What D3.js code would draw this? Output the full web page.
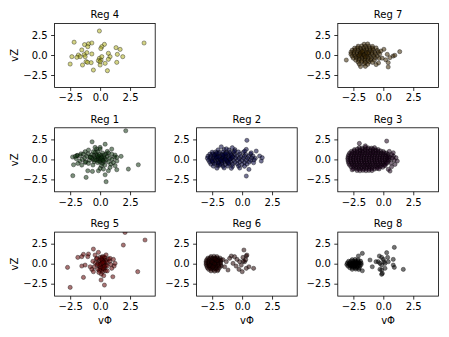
<!DOCTYPE html>
<html>
<head>
<meta charset="utf-8">
<script src="https://cdn.jsdelivr.net/npm/d3@7"></script>
<style>
  body { margin: 0; background: #fff; }
  svg { font-family: "DejaVu Sans", sans-serif; }
</style>
</head>
<body>
<svg id="chart" width="449" height="337"></svg>
<script>
// axis limits and ticks (shared by all panels)
const xDomain = [-3.8, 4.6];
const yDomain = [-4.05, 3.95];
const tickVals = [-2.5, 0, 2.5];

// points per region: [vPhi, vZ]
const reg4 = [[-0.06,3.0],[-2.17,1.6],[3.67,1.5],[-1.3,1.3],[-0.97,1.4],[-0.69,1.5],[-1.03,1.04],[0.36,1.33],[0.14,1.04],[0.06,0.8],[1.33,0.92],[1.67,0.7],[-1.53,0.63],[-1.11,0.29],[-0.69,0.13],[-1.33,0.04],[0.69,0.21],[1.44,0.08],[1.89,-0.21],[0.83,-0.21],[0.69,-0.54],[-2.36,-0.21],[-1.81,0],[-1.67,-0.21],[-1.94,-0.29],[-1.25,-0.21],[-0.06,-0.42],[0.08,-0.63],[-0.14,-0.71],[0,-0.83],[0.14,-0.21],[-2.5,-1.13],[-1.47,-1.25],[-1.17,-0.83],[-1.05,-0.92],[-0.75,-0.96],[1.39,-0.92],[0.42,-1.04],[0,-1.25],[-0.56,-1.88],[0.61,-1.96]];

const reg7 = [[-1.6,1.35],[-1.3,1.38],
  [-2.1,1.1],[-1.8,1.13],[-1.5,1.08],[-1.2,1.12],[-0.9,1.07],
  [-2.4,0.85],[-2.15,0.88],[-1.9,0.83],[-1.65,0.87],[-1.4,0.82],[-1.15,0.86],[-0.9,0.84],[-0.6,0.88],
  [-2.6,0.6],[-2.35,0.63],[-2.1,0.58],[-1.85,0.62],[-1.6,0.57],[-1.35,0.61],[-1.1,0.59],[-0.85,0.63],[-0.5,0.57],
  [-2.7,0.35],[-2.45,0.38],[-2.2,0.33],[-1.95,0.37],[-1.7,0.32],[-1.45,0.36],[-1.2,0.34],[-0.95,0.38],[-0.7,0.33],[-0.4,0.36],
  [-2.7,0.1],[-2.45,0.13],[-2.2,0.08],[-1.95,0.12],[-1.7,0.07],[-1.45,0.11],[-1.2,0.09],[-0.95,0.13],[-0.65,0.08],[-0.3,0.11],
  [-2.6,-0.15],[-2.35,-0.12],[-2.1,-0.17],[-1.85,-0.13],[-1.6,-0.18],[-1.35,-0.14],[-1.1,-0.16],[-0.8,-0.12],[-0.5,-0.17],
  [-2.5,-0.4],[-2.25,-0.37],[-2.0,-0.42],[-1.75,-0.38],[-1.5,-0.43],[-1.25,-0.39],[-1.0,-0.41],[-0.7,-0.37],[-0.35,-0.42],
  [-2.3,-0.65],[-2.05,-0.62],[-1.8,-0.67],[-1.55,-0.63],[-1.3,-0.68],[-1.05,-0.64],[-0.75,-0.66],
  [-2.1,-0.9],[-1.8,-0.87],[-1.5,-0.92],[-1.2,-0.88],[-0.9,-0.93],
  [-2.0,-1.15],[-1.6,-1.12],[-1.3,-1.17],[-1.9,-1.45],[-1.5,-1.42],
  [-1.9,0.2],[-1.6,0.0],[-1.75,0.45],[-1.5,-0.25],[-2.0,-0.05],[-1.3,0.25],
  [-3.09,-0.63],[1.37,0.42],[0.82,-0.13],[0.96,-0.04],[0.55,-0.33],[0.33,0.08],[0.05,0.71],[0.41,-0.96],[0.41,-1.5],[-0.1,-0.4],[-0.2,0.5],[0.2,-0.6],[-0.4,-1.0],[-0.6,-1.2]];

const reg1 = [[-0.5,0.5],[-0.3,0.6],[-0.1,0.4],[0.1,0.5],[0.3,0.3],[-0.4,0.2],[-0.2,0.1],[0,0.2],[0.2,0.0],[0.4,0.1],[-0.6,0.0],[-0.3,-0.1],[-0.1,-0.2],[0.1,-0.1],[0.3,-0.3],[0.5,-0.1],[-0.5,-0.3],[-0.2,-0.4],[0.0,-0.3],[0.2,-0.5],[-0.8,0.3],[-0.7,0.6],[-0.9,-0.1],[0.6,0.4],[0.8,0.2],[0.7,-0.3],[1.0,0.0],[1.2,0.3],[1.4,-0.2],[-1.3,0.2],[-1.5,0.0],[-1.7,-0.2],[-2.0,0.1],[-1.2,-0.3],[-0.4,0.9],[-0.2,1.0],[0.2,0.8],[0.5,0.7],[-0.6,-0.7],[0.1,-0.8],[0.4,-0.7],[-0.3,1.3],[0.6,1.0],[-1.6,0.7],[-1.9,0.5],[-0.15,0.3],[0.05,0.05],[-0.25,0.45],[0.15,0.25],[-0.45,-0.05],[0.25,-0.15],[-0.05,0.6],[0.35,0.55],[-0.7,0.2],[0.9,-0.6],[1.1,-0.4],[-2.3,0.3],[-1.0,0.7],[0.0,1.5],[0.7,0.8],
  [2.14,3.58],[-0.67,2.2],[0.42,1.9],[0.97,1.29],[0,1.29],[-0.42,1.5],[-0.56,0.96],[-0.97,1.17],[-1.25,0.96],[-1.94,0.46],[-1.67,0.46],[-2.08,0.38],[-1.39,0.67],[-1.11,0.38],[-0.83,0.25],[1.75,0.38],[1.39,0.25],[1.25,0.54],[0.97,0.67],[-2.22,-0.67],[-1.86,-0.5],[-1.53,-0.71],[-1.25,-0.38],[-0.97,-0.5],[3.19,-0.67],[2.36,-1.21],[1.25,-0.79],[1.39,-1.29],[0.83,-1.0],[0.69,-1.42],[0.28,-1.21],[-1.03,-1.42],[-0.64,-1.5],[0,-1.13],[-0.14,-1.42],[-2.28,-2.04],[-1.17,-2.25],[0.42,-1.92],[0.5,-2.79]];

const reg2 = [[-2.0,1.2],[-1.5,1.24],[-1.1,1.18],[-0.6,1.22],
  [-2.5,0.9],[-2.2,0.93],[-1.9,0.88],[-1.6,0.92],[-1.3,0.87],[-1.0,0.91],[-0.7,0.89],[-0.3,0.93],[0.1,0.88],
  [-2.7,0.65],[-2.45,0.68],[-2.2,0.63],[-1.95,0.67],[-1.7,0.62],[-1.45,0.66],[-1.2,0.64],[-0.95,0.68],[-0.6,0.63],[-0.2,0.66],[0.3,0.62],[0.7,0.67],
  [-2.85,0.4],[-2.6,0.43],[-2.35,0.38],[-2.1,0.42],[-1.85,0.37],[-1.6,0.41],[-1.35,0.39],[-1.1,0.43],[-0.8,0.38],[-0.45,0.42],[-0.1,0.37],[0.2,0.41],[0.55,0.39],[0.9,0.43],
  [-2.9,0.15],[-2.65,0.18],[-2.4,0.13],[-2.15,0.17],[-1.9,0.12],[-1.65,0.16],[-1.4,0.14],[-1.15,0.18],[-0.9,0.13],[-0.55,0.17],[-0.25,0.12],[0.1,0.16],[0.45,0.14],[0.8,0.18],[1.1,0.13],
  [-2.8,-0.1],[-2.55,-0.07],[-2.3,-0.12],[-2.05,-0.08],[-1.8,-0.13],[-1.55,-0.09],[-1.3,-0.11],[-1.05,-0.07],[-0.7,-0.12],[-0.35,-0.08],[0.0,-0.13],[0.35,-0.09],[0.7,-0.11],[1.0,-0.07],
  [-2.7,-0.35],[-2.45,-0.32],[-2.2,-0.37],[-1.95,-0.33],[-1.7,-0.38],[-1.45,-0.34],[-1.2,-0.36],[-0.95,-0.32],[-0.6,-0.37],[-0.2,-0.33],[0.2,-0.38],[0.6,-0.34],
  [-2.6,-0.6],[-2.3,-0.57],[-2.0,-0.62],[-1.7,-0.58],[-1.4,-0.63],[-1.1,-0.59],[-0.8,-0.61],[-0.4,-0.57],[0.0,-0.62],[0.4,-0.58],
  [-2.4,-0.85],[-2.0,-0.82],[-1.6,-0.87],[-1.2,-0.83],[-0.8,-0.88],[-0.3,-0.84],[0.2,-0.86],
  [-2.1,-1.1],[-1.5,-1.07],[-0.9,-1.12],[-0.2,-1.08],
  [-2.2,0.25],[-1.8,0.0],[-1.5,0.3],[-1.25,-0.2],[-1.0,0.05],[-2.0,-0.45],[-1.6,0.55],[-0.9,0.5],
  [-2.3,0.55],[-2.0,0.3],[-1.7,-0.2],[-1.4,0.0],[-1.1,-0.45],[-0.8,0.25],[-2.5,-0.2],[-1.85,-0.7],[-1.35,0.75],[-2.1,0.8],
  [0.4,2.38],[0.35,1.25],[0.21,1.04],[0.76,0.83],[1.18,1.04],[1.46,0.42],[1.68,0.21],[1.6,-0.21],[0.96,-0.42],[0.57,-1.25],[0.35,-2.08],[-1.74,1.58],[-1.32,1.33],[-0.82,1.46],[-0.63,1.04]];

const reg3 = [[-2.02,1.47],[-1.77,1.42],[-1.49,1.5],[-1.26,1.44],[-0.98,1.41],[-0.73,1.46],
  [-2.41,1.22],[-2.17,1.28],[-1.95,1.2],[-1.72,1.27],[-1.5,1.23],[-1.31,1.29],[-1.06,1.21],[-0.85,1.26],[-0.62,1.2],[-0.43,1.24],
  [-2.66,1.0],[-2.42,1.06],[-2.2,0.99],[-1.98,1.05],[-1.76,1.01],[-1.54,1.07],[-1.32,1.0],[-1.1,1.04],[-0.88,0.98],[-0.66,1.05],[-0.44,1.01],[-0.22,1.06],[0.0,0.99],
  [-2.81,0.8],[-2.57,0.84],[-2.35,0.78],[-2.13,0.83],[-1.91,0.79],[-1.69,0.85],[-1.47,0.8],[-1.25,0.82],[-1.03,0.77],[-0.81,0.84],[-0.59,0.79],[-0.37,0.83],[-0.15,0.78],[0.07,0.82],[0.26,0.79],
  [-2.89,0.57],[-2.65,0.62],[-2.43,0.56],[-2.21,0.61],[-1.99,0.58],[-1.77,0.63],[-1.55,0.57],[-1.33,0.6],[-1.11,0.56],[-0.89,0.62],[-0.67,0.58],[-0.45,0.61],[-0.23,0.56],[-0.01,0.6],[0.21,0.57],[0.41,0.62],
  [-2.93,0.36],[-2.7,0.4],[-2.48,0.34],[-2.26,0.39],[-2.04,0.35],[-1.82,0.41],[-1.6,0.36],[-1.38,0.38],[-1.16,0.33],[-0.94,0.4],[-0.72,0.35],[-0.5,0.39],[-0.28,0.34],[-0.06,0.38],[0.16,0.35],[0.36,0.4],[0.5,0.33],
  [-2.96,0.14],[-2.74,0.18],[-2.52,0.12],[-2.3,0.17],[-2.08,0.13],[-1.86,0.19],[-1.64,0.14],[-1.42,0.16],[-1.2,0.11],[-0.98,0.18],[-0.76,0.13],[-0.54,0.17],[-0.32,0.12],[-0.1,0.16],[0.12,0.13],[0.33,0.18],[0.52,0.12],
  [-2.95,-0.08],[-2.73,-0.04],[-2.51,-0.1],[-2.29,-0.05],[-2.07,-0.09],[-1.85,-0.03],[-1.63,-0.08],[-1.41,-0.06],[-1.19,-0.11],[-0.97,-0.04],[-0.75,-0.09],[-0.53,-0.05],[-0.31,-0.1],[-0.09,-0.06],[0.13,-0.09],[0.33,-0.04],[0.48,-0.1],
  [-2.92,-0.3],[-2.7,-0.26],[-2.48,-0.32],[-2.26,-0.27],[-2.04,-0.31],[-1.82,-0.25],[-1.6,-0.3],[-1.38,-0.28],[-1.16,-0.33],[-0.94,-0.26],[-0.72,-0.31],[-0.5,-0.27],[-0.28,-0.32],[-0.06,-0.28],[0.16,-0.31],[0.38,-0.27],
  [-2.88,-0.52],[-2.66,-0.48],[-2.44,-0.54],[-2.22,-0.49],[-2.0,-0.53],[-1.78,-0.47],[-1.56,-0.52],[-1.34,-0.5],[-1.12,-0.55],[-0.9,-0.48],[-0.68,-0.53],[-0.46,-0.49],[-0.24,-0.54],[-0.02,-0.5],[0.2,-0.53],[0.31,-0.47],
  [-2.8,-0.74],[-2.58,-0.7],[-2.36,-0.76],[-2.14,-0.71],[-1.92,-0.75],[-1.7,-0.69],[-1.48,-0.74],[-1.26,-0.72],[-1.04,-0.77],[-0.82,-0.7],[-0.6,-0.75],[-0.38,-0.71],[-0.16,-0.76],[0.06,-0.72],[0.15,-0.78],
  [-2.68,-0.96],[-2.46,-0.92],[-2.24,-0.98],[-2.02,-0.93],[-1.8,-0.97],[-1.58,-0.91],[-1.36,-0.96],[-1.14,-0.94],[-0.92,-0.99],[-0.7,-0.92],[-0.48,-0.97],[-0.26,-0.93],[-0.05,-0.98],
  [-2.5,-1.18],[-2.28,-1.14],[-2.06,-1.2],[-1.84,-1.15],[-1.62,-1.19],[-1.4,-1.13],[-1.18,-1.18],[-0.96,-1.16],[-0.74,-1.21],[-0.52,-1.14],[-0.35,-1.19],
  [-2.2,-1.39],[-1.95,-1.42],[-1.7,-1.37],[-1.45,-1.41],[-1.2,-1.38],[-0.95,-1.4],
  [-2.0,2.0],[0.28,2.29],[0.83,0.83],[1.06,0.21],[1.17,-0.21],[0.97,-0.63],[0.69,-0.92],[0.56,-1.46],[0.42,-1.25],[0.85,0.4],[0.7,0.6],[0.65,-0.45],[0.9,-0.1],[0.75,0.15],[-1.5,1.7],[-2.6,-1.3],[0.5,1.0]];

const reg5 = [[0.0,0.8],[0.2,0.9],[0.4,0.7],[0.1,0.6],[0.3,0.5],[0.5,0.4],[-0.1,0.4],[0.2,0.3],[0.0,0.2],[0.4,0.1],[0.6,0.2],[-0.2,0.0],[0.1,0.0],[0.3,-0.1],[0.5,-0.2],[-0.1,-0.3],[0.2,-0.4],[0.4,-0.5],[0.0,-0.6],[0.1,-0.8],[0.3,-0.7],[-0.2,-0.7],[0.2,-1.0],[0.45,-0.9],[0.15,0.75],[0.35,0.85],[0.05,-0.45],[0.25,-0.55],[-0.05,-0.85],[0.6,-0.3],[0.7,0.6],[0.8,0.3],[-0.3,0.6],[-0.4,0.1],[-0.5,-0.4],[0.9,-0.1],[0.15,0.45],[0.3,0.2],[0.0,-0.1],[0.35,-0.3],[0.1,-1.3],[0.3,-1.5],[-0.1,-1.1],[0.6,-0.9],[0.5,1.1],[-0.6,0.3],[0.2,0.1],[-0.25,-0.15],
  [2.08,3.9],[3.75,2.96],[1.94,2.33],[-0.56,1.83],[-0.14,1.42],[-0.97,1.21],[-1.39,1.17],[-1.03,0.88],[-1.86,0.79],[-1.53,0.88],[-0.42,1.08],[-0.28,0.67],[0.83,0.67],[1.11,0.54],[1.25,0.04],[1.17,-0.29],[0.97,-0.58],[1.06,-1.63],[-2.72,-0.46],[-1.53,-0.29],[-1.25,-0.17],[-0.83,-0.38],[-0.69,-0.71],[-0.56,-1.0],[-1.39,-1.71],[3.14,-1.0],[0.08,-2.04],[0.36,-2.67],[-2.5,-2.96]];

const reg6 = [[-2.6,0.9],[-2.35,0.93],[-2.1,0.88],
  [-2.85,0.7],[-2.65,0.73],[-2.45,0.68],[-2.25,0.72],[-2.05,0.67],[-1.85,0.71],
  [-2.95,0.5],[-2.75,0.53],[-2.55,0.48],[-2.35,0.52],[-2.15,0.47],[-1.95,0.51],[-1.75,0.49],
  [-3.0,0.3],[-2.8,0.33],[-2.6,0.28],[-2.4,0.32],[-2.2,0.27],[-2.0,0.31],[-1.8,0.29],
  [-3.0,0.1],[-2.8,0.13],[-2.6,0.08],[-2.4,0.12],[-2.2,0.07],[-2.0,0.11],[-1.8,0.09],
  [-3.0,-0.1],[-2.8,-0.07],[-2.6,-0.12],[-2.4,-0.08],[-2.2,-0.13],[-2.0,-0.09],[-1.8,-0.11],
  [-2.95,-0.3],[-2.75,-0.27],[-2.55,-0.32],[-2.35,-0.28],[-2.15,-0.33],[-1.95,-0.29],[-1.75,-0.31],
  [-2.9,-0.5],[-2.7,-0.47],[-2.5,-0.52],[-2.3,-0.48],[-2.1,-0.53],[-1.9,-0.49],
  [-2.8,-0.7],[-2.6,-0.67],[-2.4,-0.72],[-2.2,-0.68],[-2.0,-0.73],
  [-2.6,-0.9],[-2.3,-0.93],[-2.05,-0.88],
  [-2.5,0.2],[-2.3,0.0],[-2.7,-0.2],[-2.1,0.4],[-2.45,-0.4],[-2.25,0.6],
  [-0.9,0.96],[-1.04,0.67],[-0.63,0.88],[-0.43,0.54],[-0.21,0.25],[0.07,0.79],[0.35,0.96],[0.15,1.71],[0.4,1.08],[-0.07,-0.17],[-0.26,-0.71],[0.01,-1.0],[0.35,-0.58],[0.57,-0.38],[0.96,-0.58],[-1.32,0.25],[-1.46,-0.38],[-1.18,-0.79],[-0.76,0.04],[0.21,0.25],[-0.5,-0.3],[0.1,0.3],[0.3,0.5],[-1.6,0.5]];

const reg8 = [[-2.6,0.5],[-2.35,0.53],[-2.1,0.48],
  [-2.9,0.3],[-2.7,0.33],[-2.5,0.28],[-2.3,0.32],[-2.1,0.27],[-1.9,0.31],
  [-3.0,0.1],[-2.8,0.13],[-2.6,0.08],[-2.4,0.12],[-2.2,0.07],[-2.0,0.11],[-1.85,0.09],
  [-3.05,-0.1],[-2.85,-0.07],[-2.65,-0.12],[-2.45,-0.08],[-2.25,-0.13],[-2.05,-0.09],[-1.85,-0.11],
  [-2.95,-0.3],[-2.75,-0.27],[-2.55,-0.32],[-2.35,-0.28],[-2.15,-0.33],[-1.95,-0.29],
  [-2.8,-0.5],[-2.6,-0.47],[-2.4,-0.52],[-2.2,-0.48],[-2.0,-0.53],
  [-2.6,-0.7],[-2.3,-0.67],[-2.05,-0.72],
  [-2.5,0.0],[-2.3,0.2],[-2.7,-0.2],[-2.4,-0.35],[-2.2,0.05],
  [-1.75,1.29],[-2.08,0.96],[-1.75,-0.88],[-1.11,0.46],[-0.92,-0.38],[-0.33,0.96],[-0.14,0.79],[0,0.54],[-0.42,0.25],[-0.61,0.25],[-0.28,0.04],[-0.14,-0.17],[0.14,0.04],[0.06,0.25],[0.42,0.25],[0.83,0.54],[0.28,1.38],[0.92,2.04],[0.83,-0.17],[0.92,-0.46],[-0.14,-0.79],[-0.28,-0.71],[-0.08,-1.21],[-0.14,-1.33],[1.67,-0.71],[0.36,0.79],[0.14,-0.58]];

const regNames = ['Reg 4', 'Reg 7', 'Reg 1', 'Reg 2', 'Reg 3', 'Reg 5', 'Reg 6', 'Reg 8'];
const regCells = [[0, 0], [0, 2], [1, 0], [1, 1], [1, 2], [2, 0], [2, 1], [2, 2]]; // [row, col]
const regColors = ['#b0b020', '#3a2600', '#103410', '#00003c', '#1c001c', '#600000', '#200000', '#000000'];
const regData = [reg4, reg7, reg1, reg2, reg3, reg5, reg6, reg8];

const colLeft = [54.6, 196.6, 337.8];
const rowTop = [23.4, 127.8, 232.1];
const pw = 100.6, ph = 64;

const svg = d3.select('#chart');

const x = d3.scaleLinear().domain(xDomain).range([0, pw]);
const y = d3.scaleLinear().domain(yDomain).range([ph, 0]);
const fmt = d3.format('.1f');

regNames.forEach((name, i) => {
  const [r, c] = regCells[i];
  const g = svg.append('g').attr('transform', `translate(${colLeft[c]},${rowTop[r]})`);

  const clipId = 'clip' + i;
  g.append('clipPath').attr('id', clipId)
    .append('rect').attr('width', pw).attr('height', ph);

  g.append('g')
    .attr('clip-path', `url(#${clipId})`)
    .selectAll('circle')
    .data(regData[i])
    .join('circle')
    .attr('cx', d => x(d[0]))
    .attr('cy', d => y(d[1]))
    .attr('r', 2.1)
    .style('fill', regColors[i])
    .style('fill-opacity', 0.55)
    .style('stroke', '#000')
    .style('stroke-opacity', 0.6)
    .style('stroke-width', 0.6);

  const xa = g.append('g')
    .attr('transform', `translate(0,${ph})`)
    .call(d3.axisBottom(x).tickValues(tickVals).tickFormat(fmt).tickSize(3.5).tickPadding(3.5).tickSizeOuter(0));
  const ya = g.append('g')
    .call(d3.axisLeft(y).tickValues(tickVals).tickFormat(fmt).tickSize(3.5).tickPadding(3.5).tickSizeOuter(0));
  [xa, ya].forEach(a => {
    a.select('.domain').remove();
    a.selectAll('text').attr('font-size', 10).attr('font-family', 'DejaVu Sans').attr('fill', '#000');
    a.selectAll('line').attr('stroke', '#000').attr('stroke-width', 0.8);
  });

  g.append('rect')
    .attr('width', pw).attr('height', ph)
    .attr('fill', 'none').attr('stroke', '#000').attr('stroke-width', 0.8);

  g.append('text')
    .attr('x', pw / 2).attr('y', -5)
    .attr('text-anchor', 'middle')
    .attr('font-size', 10)
    .text(name);

  if (c === 0) {
    g.append('text')
      .attr('transform', `translate(-37,${ph / 2}) rotate(-90)`)
      .attr('text-anchor', 'middle')
      .attr('font-size', 10)
      .text('vZ');
  }
  if (r === 2) {
    g.append('text')
      .attr('x', pw / 2).attr('y', ph + 28)
      .attr('text-anchor', 'middle')
      .attr('font-size', 10)
      .text('vΦ');
  }
});
</script>
</body>
</html>
